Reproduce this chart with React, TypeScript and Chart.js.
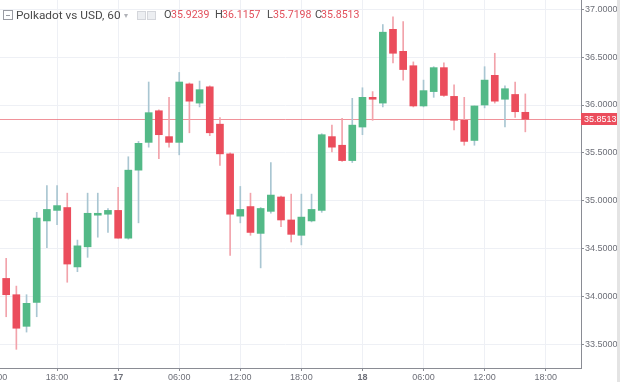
import React, { useEffect, useRef } from 'react';
import { Chart, registerables } from 'chart.js';

Chart.register(...registerables);

// Hours counted from 16th 12:00 (one candle per hour)
const hours = [1, 2, 3, 4, 5, 6, 7, 8, 9, 10, 11, 12, 13, 14, 15, 16, 17, 18, 19, 20, 21, 22, 23, 24, 25, 26,
  27, 28, 29, 30, 31, 32, 33, 34, 35, 36, 37, 38, 39, 40, 41, 42, 43, 44, 45, 46, 47, 48, 49, 50, 51, 52];

const opens = [34.19, 34.02, 33.69, 33.94, 34.79, 34.90, 34.93, 34.31, 34.52, 34.85, 34.86, 34.90, 34.61,
  35.32, 35.61, 35.94, 35.67, 35.61, 36.22, 36.02, 36.19, 35.80, 35.49, 34.84, 34.94, 34.66,
  34.89, 35.04, 34.80, 34.64, 34.79, 34.90, 35.67, 35.58, 35.42, 35.77, 36.08, 36.02, 36.79,
  36.56, 36.41, 35.99, 36.14, 36.39, 36.09, 35.84, 35.63, 36.00, 36.31, 36.06, 36.11, 35.9239];
const highs = [34.40, 34.11, 34.02, 34.88, 35.16, 35.16, 35.08, 34.59, 35.08, 35.08, 34.92, 35.14, 35.46,
  35.62, 36.24, 35.95, 36.08, 36.34, 36.23, 36.25, 36.20, 35.87, 35.50, 35.15, 35.08, 34.93,
  35.40, 35.05, 35.07, 35.07, 35.07, 35.70, 35.79, 35.86, 36.07, 36.18, 36.14, 36.84, 36.92,
  36.87, 36.45, 36.26, 36.40, 36.44, 36.21, 36.08, 35.99, 36.40, 36.54, 36.20, 36.24, 36.1157];
const lows = [33.79, 33.45, 33.63, 33.79, 34.51, 34.75, 34.15, 34.26, 34.41, 34.62, 34.67, 34.61, 34.60,
  34.77, 35.56, 35.44, 35.56, 35.48, 35.71, 35.98, 35.68, 35.37, 34.43, 34.77, 34.64, 34.30,
  34.87, 34.73, 34.57, 34.54, 34.78, 34.88, 35.51, 35.41, 35.40, 35.69, 35.84, 35.98, 36.44,
  36.26, 35.98, 35.98, 36.08, 36.09, 35.74, 35.58, 35.58, 35.97, 36.02, 35.77, 35.87, 35.7198];
const closes = [34.02, 33.67, 33.93, 34.82, 34.91, 34.95, 34.34, 34.53, 34.87, 34.87, 34.90, 34.61, 35.32,
  35.60, 35.92, 35.69, 35.61, 36.24, 36.04, 36.16, 35.71, 35.49, 34.86, 34.91, 34.67, 34.92,
  35.06, 34.80, 34.65, 34.83, 34.91, 35.69, 35.56, 35.42, 35.79, 36.08, 36.06, 36.76, 36.54,
  36.37, 35.99, 36.15, 36.39, 36.10, 35.84, 35.62, 35.99, 36.26, 36.04, 36.17, 35.93, 35.8513];

const xTickValues = [0, 6, 12, 18, 24, 30, 36, 42, 48, 54];
const xTickLabels = ['12:00', '18:00', '17', '06:00', '12:00', '18:00', '18', '06:00', '12:00', '18:00'];
const dayTicks = ['17', '18'];
const yTickValues = [33.5, 34.0, 34.5, 35.0, 35.5, 36.0, 36.5, 37.0];

const legendTitle = 'Polkadot vs USD, 60';
const legendItems = [
  { key: 'O', value: '35.9239' },
  { key: 'H', value: '36.1157' },
  { key: 'L', value: '35.7198' },
  { key: 'C', value: '35.8513' },
];

const UP = '#53b987';
const DOWN = '#eb4d5c';
const UP_WICK = '#a9c6d2';
const DOWN_WICK = '#f2a3ab';
const AXIS_TEXT = '#6d6f78';
const GRID = '#eef0f5';

export default function App() {
  const ref = useRef<HTMLCanvasElement | null>(null);

  useEffect(() => {
    if (!ref.current) return;
    const isUp = opens.map((o, i) => closes[i] >= o);
    const lastPrice = closes[closes.length - 1];

    const pricePlugin = {
      id: 'priceLine',
      beforeDatasetsDraw(chart: any) {
        const { ctx, chartArea } = chart;
        const y = chart.scales.y;
        const py = Math.round(y.getPixelForValue(lastPrice)) + 0.5;
        ctx.save();
        ctx.strokeStyle = 'rgba(235,110,120,0.75)';
        ctx.lineWidth = 1;
        ctx.beginPath();
        ctx.moveTo(chartArea.left, py);
        ctx.lineTo(chartArea.right, py);
        ctx.stroke();
        ctx.restore();
      },
      afterDraw(chart: any) {
        const { ctx, chartArea } = chart;
        const y = chart.scales.y;
        const py = Math.round(y.getPixelForValue(lastPrice));
        ctx.save();
        ctx.fillStyle = DOWN;
        ctx.fillRect(chartArea.right, py - 6, 36, 12);
        ctx.fillStyle = '#ffffff';
        ctx.font = '9px "Liberation Sans", Arial, sans-serif';
        ctx.textAlign = 'left';
        ctx.textBaseline = 'middle';
        ctx.fillText(lastPrice.toFixed(4), chartArea.right + 3, py + 0.5);
        ctx.restore();
      },
    };

    const chart = new Chart(ref.current, {
      type: 'bar',
      data: {
        datasets: [
          {
            label: 'body',
            data: hours.map((h, i) => ({ x: h, y: [opens[i], closes[i]] })),
            backgroundColor: isUp.map((u) => (u ? UP : DOWN)),
            borderWidth: 0,
            barThickness: 7,
            minBarLength: 1.5,
            grouped: false,
            order: 0,
          } as any,
          {
            label: 'wick',
            data: hours.map((h, i) => ({ x: h, y: [lows[i], highs[i]] })),
            backgroundColor: isUp.map((u) => (u ? UP_WICK : DOWN_WICK)),
            borderWidth: 0,
            barThickness: 1,
            grouped: false,
            order: 1,
          } as any,
        ],
      },
      options: {
        responsive: false,
        animation: false,
        events: [],
        layout: { padding: 0 },
        plugins: { legend: { display: false }, tooltip: { enabled: false }, title: { display: false } },
        scales: {
          x: {
            type: 'linear',
            min: -0.589,
            max: 57.47,
            offset: false,
            grid: { color: GRID, offset: false, drawTicks: true, tickLength: 3, tickColor: '#8a8c94' },
            border: { display: true, color: '#8a8c94' },
            afterBuildTicks: (scale: any) => {
              scale.ticks = xTickValues.map((v) => ({ value: v }));
            },
            afterFit: (scale: any) => {
              scale.height = 14;
              scale.paddingLeft = 0;
              scale.paddingRight = 0;
            },
            ticks: {
              autoSkip: false,
              maxRotation: 0,
              padding: 1,
              color: AXIS_TEXT,
              font: (c: any) => ({
                family: '"Liberation Sans", Arial, sans-serif',
                size: 9,
                weight: dayTicks.includes(xTickLabels[c.index]) ? 'bold' : 'normal',
              }),
              callback: (_v: any, i: number) => xTickLabels[i],
            },
          },
          y: {
            type: 'linear',
            position: 'right',
            min: 33.255,
            max: 37.096,
            grid: { color: GRID, drawTicks: true, tickLength: 3, tickColor: '#8a8c94' },
            border: { display: true, color: '#8a8c94' },
            afterBuildTicks: (scale: any) => {
              scale.ticks = yTickValues.map((v) => ({ value: v }));
            },
            afterFit: (scale: any) => {
              scale.width = 39;
              scale.paddingTop = 0;
              scale.paddingBottom = 0;
            },
            ticks: {
              padding: 1,
              color: AXIS_TEXT,
              font: { family: '"Liberation Sans", Arial, sans-serif', size: 9 },
              callback: (v: any) => Number(v).toFixed(4),
            },
          },
        },
      },
      plugins: [pricePlugin],
    });
    return () => chart.destroy();
  }, []);

  const legendFont = 'Roboto, "Liberation Sans", Arial, sans-serif';
  const itemPos = [
    { k: 164, v: 171 },
    { k: 215, v: 222 },
    { k: 267, v: 273 },
    { k: 315, v: 321 },
  ];

  return (
    <div style={{ position: 'fixed', left: 0, top: 0, width: 620, height: 382, overflow: 'hidden', background: '#fff' }}>
      <canvas ref={ref} width={630} height={382} style={{ position: 'absolute', left: -10, top: 0 }} />
      <div style={{ position: 'absolute', left: 3, top: 10, width: 8, height: 8, border: '1px solid #9a9ca3', background: '#fff' }}>
        <div style={{ position: 'absolute', left: 2, top: 4, width: 4, height: 1, background: '#9a9ca3' }} />
      </div>
      <div style={{ position: 'absolute', left: 16, top: 7, fontFamily: legendFont, fontSize: 11.8, color: '#4a4a4a', whiteSpace: 'nowrap', lineHeight: '16px' }}>
        {legendTitle}
      </div>
      <div style={{ position: 'absolute', left: 124, top: 8, fontFamily: legendFont, fontSize: 8, color: '#b0b2b8', lineHeight: '16px' }}>▾</div>
      <div style={{ position: 'absolute', left: 137, top: 11, width: 7, height: 7, border: '1px solid #d4d6db', background: '#eceef1' }} />
      <div style={{ position: 'absolute', left: 147, top: 11, width: 7, height: 7, border: '1px solid #d4d6db', background: '#eceef1' }} />
      {legendItems.map((it, i) => (
        <React.Fragment key={it.key}>
          <div style={{ position: 'absolute', left: itemPos[i].k, top: 7, fontFamily: legendFont, fontSize: 11, color: '#4a4a4a', lineHeight: '16px' }}>{it.key}</div>
          <div style={{ position: 'absolute', left: itemPos[i].v, top: 7, fontFamily: legendFont, fontSize: 10.6, color: '#e2505c', lineHeight: '16px', whiteSpace: 'nowrap' }}>{it.value}</div>
        </React.Fragment>
      ))}
      <div style={{ position: 'absolute', right: 0, top: 0, width: 3, height: 382, background: '#e4e4e4' }} />
    </div>
  );
}
